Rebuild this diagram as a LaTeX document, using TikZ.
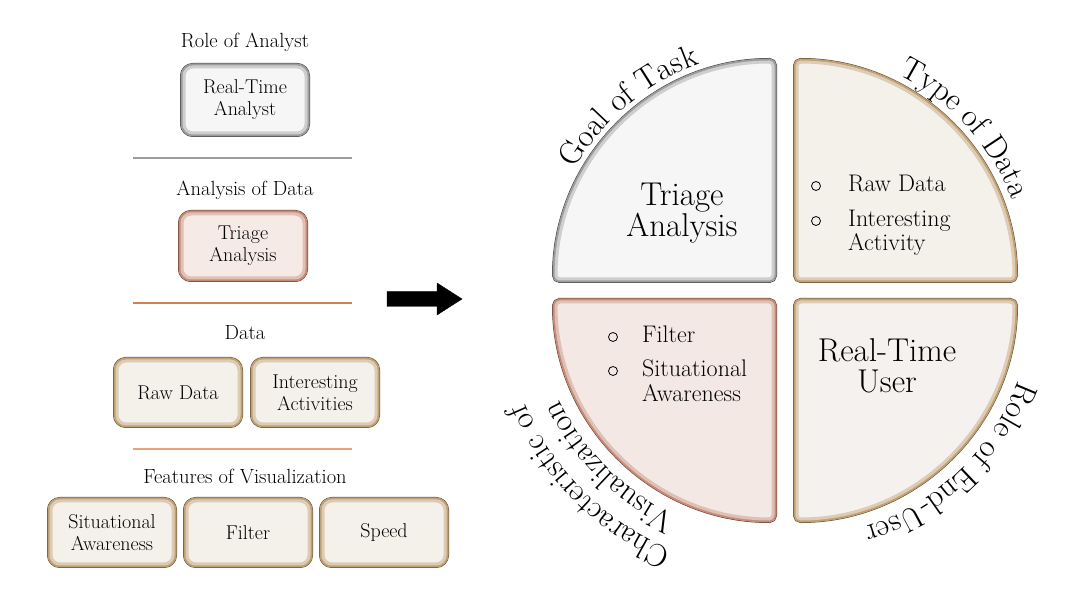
\documentclass[tikz,border=0pt]{standalone}
\usepackage{fontspec}
\usetikzlibrary{positioning,decorations.text}
\definecolor{bgray}{HTML}{9C9C9C}
\definecolor{dgray}{HTML}{3E3E3E}
\definecolor{lgray}{HTML}{F6F6F6}
\definecolor{bpink}{HTML}{C48C78}
\definecolor{dpink}{HTML}{5E3A2E}
\definecolor{lpink}{HTML}{F5EAE6}
\definecolor{btan}{HTML}{BFA174}
\definecolor{dtan}{HTML}{5A4830}
\definecolor{ltan}{HTML}{F4F0EA}
\definecolor{lsand}{HTML}{F5F1EE}
\definecolor{lpeach}{HTML}{F4E8E4}
\definecolor{lnorange}{HTML}{D2804F}
\definecolor{lnpeach}{HTML}{E8A478}
\newcommand{\arcfont}{\fontsize{32}{34}\selectfont}

\begin{document}
\begin{tikzpicture}[x=1pt, y=1pt,
    gbevel/.style={preaction={draw=dgray, line width=8pt}, preaction={draw=bgray, line width=7pt}, fill=lgray, draw=bgray!45!lgray, line width=3pt},
    pbevel/.style={preaction={draw=dpink, line width=8pt}, preaction={draw=bpink, line width=7pt}, fill=lpink, draw=bpink!45!lpink, line width=3pt},
    tbevel/.style={preaction={draw=dtan, line width=8pt}, preaction={draw=btan, line width=7pt}, fill=ltan, draw=btan!45!ltan, line width=3pt},
    tile/.style={rectangle, rounded corners=9pt, minimum width=122pt, minimum height=63pt, inner sep=2pt, align=center, font=\fontsize{20}{22}\selectfont},
    head/.style={font=\fontsize{20.5}{22}\selectfont},
    sep/.style={line width=1.3pt},
    qtext/.style={align=center, font=\fontsize{33}{31}\selectfont},
    qlist/.style={anchor=base west, inner sep=0pt, font=\fontsize{24}{24}\selectfont},
    dot/.style={circle, draw, line width=0.8pt, minimum size=9pt, inner sep=0pt},
    arclabel/.style={decorate, decoration={text along path, text align=center}}
]
    \useasboundingbox (0,0) rectangle (1072,592);

    % Left column
    \node[head] (roleA) at (245,550) {Role of Analyst};
    \node[tile, gbevel, minimum height=66pt] (rtA) at (245,492) {Real-Time\\Analyst};
    \draw[sep, bgray] (133,434) -- (352,434);

    \node[head] (anaD) at (245,402) {Analysis of Data};
    \node[tile, pbevel, minimum height=64pt] (triA) at (243,346) {Triage\\Analysis};
    \draw[sep, lnorange] (133,289) -- (352,289);

    \node[head] (dataH) at (245,259) {Data};
    \node[tile, tbevel] (rawD) at (178,199.5) {Raw Data};
    \node[tile, tbevel, right=12pt of rawD] (intA) {Interesting\\Activities};
    \draw[sep, lnpeach] (133,143) -- (352,143);

    \node[head] (featV) at (245,116) {Features of Visualization};
    \node[tile, tbevel] (sitA) at (112,59.5) {Situational\\Awareness};
    \node[tile, tbevel, right=11pt of sitA] (filt) {Filter};
    \node[tile, tbevel, right=11pt of filt] (speed) {Speed};

    % Block arrow
    \draw[fill=black] (387,285.5) -- (437,285.5) -- (437,277) -- (462,293) -- (437,309) -- (437,300.5) -- (387,300.5) -- cycle;

    % Quadrants
    \coordinate (qTL) at (773,313);
    \coordinate (qTR) at (797,313);
    \coordinate (qBL) at (773,290);
    \coordinate (qBR) at (797,290);
    \path[gbevel, rounded corners=4pt] (qTL) -- ++(-217,0) arc (180:90:217) -- cycle;
    \path[tbevel, rounded corners=4pt] (qTR) -- ++(0,217) arc (90:0:217) -- cycle;
    \path[pbevel, fill=lpeach, rounded corners=4pt] (qBL) -- ++(0,-217) arc (270:180:217) -- cycle;
    \path[tbevel, fill=lsand, rounded corners=4pt] (qBR) -- ++(217,0) arc (0:-90:217) -- cycle;

    \node[qtext] (triQ) at (682,379) {Triage\\Analysis};
    \node[qtext] (rtU) at (887,226) {Real-Time\\User};

    \node[dot] (bRaw) at (816,406) {};
    \node[qlist] (tRaw) at (848,400) {Raw Data};
    \node[dot] (bInt) at (816,371) {};
    \node[qlist] (tInt) at (848,365) {Interesting};
    \node[qlist] (tAct) at (848,341) {Activity};

    \node[dot] (bFil) at (613,255) {};
    \node[qlist] (tFil) at (642,249) {Filter};
    \node[dot] (bSit) at (613,221) {};
    \node[qlist] (tSit) at (642,215) {Situational};
    \node[qlist] (tAwa) at (642,190) {Awareness};

    % Labels round the circle
    \path[arclabel, decoration={text={|\arcfont|Goal of Task}}] (777,309) ++(170:232) arc (170:90:232);
    \path[arclabel, decoration={text={|\arcfont|Type of Data}}] (793,309) ++(84:234) arc (84:0:234);
    \path[arclabel, decoration={text={|\arcfont|Role of End-User}}] (793,294) ++(-3:240) arc (-3:-90:240);
    \path[arclabel, decoration={text={|\arcfont|Characteristic of}}] (777,294) ++(270:273) arc (270:180:273);
    \path[arclabel, decoration={text={|\arcfont|Visualization}}] (777,294) ++(270:240) arc (270:180:240);
\end{tikzpicture}
\end{document}
